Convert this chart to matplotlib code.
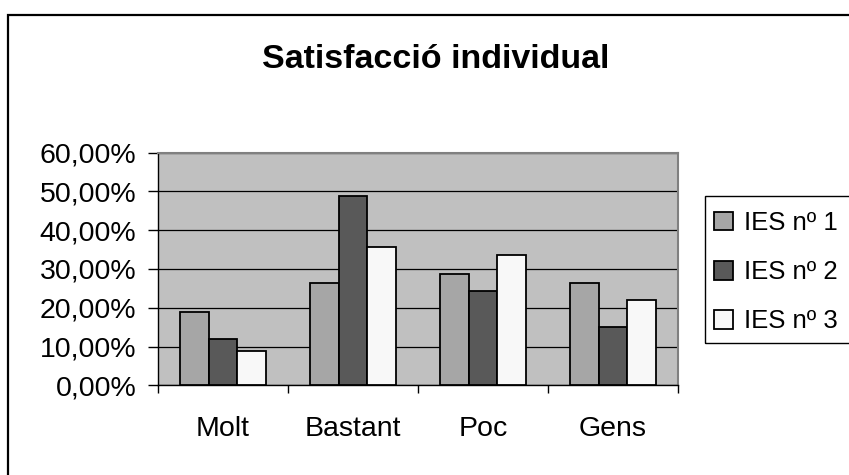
import matplotlib
matplotlib.use("Agg")
import matplotlib.pyplot as plt
from matplotlib.patches import Rectangle, Patch
from matplotlib.ticker import FuncFormatter, MultipleLocator
import numpy as np

plt.rcParams['font.family'] = ['Liberation Sans', 'DejaVu Sans']

categories = ["Molt", "Bastant", "Poc", "Gens"]
series_names = ["IES nº 1", "IES nº 2", "IES nº 3"]
ies1 = [18.8, 26.3, 28.8, 26.3]
ies2 = [11.9, 48.8, 24.4, 15.1]
ies3 = [8.8, 35.7, 33.7, 21.9]
series_values = [ies1, ies2, ies3]
colors = ["#A6A6A6", "#595959", "#F8F8F8"]
title = "Satisfacció individual"

W, H = 849, 475
fig = plt.figure(figsize=(W / 100, H / 100), dpi=100)
fig.patch.set_facecolor("white")

# plot area in pixel coordinates
left, right, top, bottom = 158, 678, 152.7, 385.3
ax = fig.add_axes([left / W, (H - bottom) / H, (right - left) / W, (bottom - top) / H])
ax.set_facecolor("#C0C0C0")

x = np.arange(len(categories))
bw = 1 / 4.5
for i, (vals, col) in enumerate(zip(series_values, colors)):
    ax.bar(x + (i - 1) * bw, vals, width=bw, color=col, edgecolor="black",
           linewidth=1.3, zorder=3, label=series_names[i])

ax.set_xlim(-0.5, len(categories) - 0.5)
ax.set_ylim(0, 60)
ax.yaxis.set_major_locator(MultipleLocator(10))
ax.yaxis.set_major_formatter(FuncFormatter(lambda v, p: f"{v:.2f}".replace(".", ",") + "%"))
ax.grid(axis="y", color="black", linewidth=0.9, zorder=1)
ax.set_axisbelow(True)

ax.set_xticks(x)
ax.set_xticklabels(categories)
ax.set_xticks(np.arange(-0.5, len(categories)), minor=True)
ax.tick_params(axis="x", which="major", length=0, pad=22, labelsize=20.5)
ax.tick_params(axis="x", which="minor", length=6, width=1, color="black", direction="out")
ax.tick_params(axis="y", which="major", length=7.2, width=1, pad=8.5, labelsize=20.5, color="black")

for s in ["top", "right"]:
    ax.spines[s].set_color("#808080")
    ax.spines[s].set_linewidth(1.5)
ax.spines["left"].set_color("black")
ax.spines["bottom"].set_color("black")
ax.spines["left"].set_linewidth(1)
ax.spines["bottom"].set_linewidth(1)

fig.text(436 / W, 1 - 60 / H, title, ha="center", va="center",
         fontsize=24.5, fontweight="bold")

# chart frame (continues past the right and bottom edges)
fig.patches.append(Rectangle((8 / W, -0.2), 1.5, 0.2 + (H - 15) / H,
                             transform=fig.transFigure, fill=False,
                             edgecolor="black", linewidth=1.6))

# legend box
fig.patches.append(Rectangle((705 / W, (H - 343) / H), 0.5, (343 - 196) / H,
                             transform=fig.transFigure, fill=False,
                             edgecolor="black", linewidth=1.0))

handles = [Patch(facecolor=c, edgecolor="black", linewidth=1.3) for c in colors]
fig.legend(handles, series_names, loc="upper left",
           bbox_to_anchor=(714 / W, 1 - 211 / H), frameon=False,
           fontsize=18.5, handlelength=0.75, handleheight=0.75,
           handletextpad=0.4, labelspacing=0.98, borderpad=0, borderaxespad=0)

fig.savefig("out.png", dpi=100)
